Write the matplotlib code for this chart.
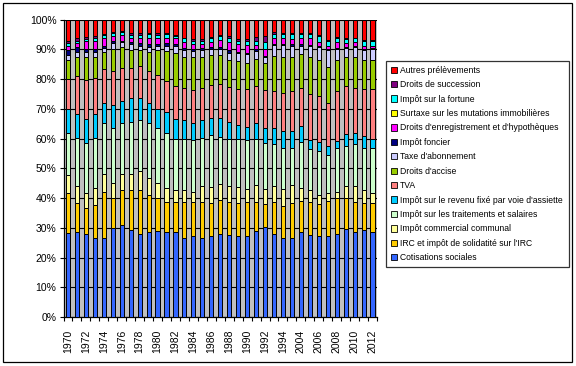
import matplotlib
matplotlib.use("Agg")
import matplotlib.pyplot as plt
from matplotlib.patches import Patch, Rectangle
import numpy as np

plt.rcParams['font.family'] = ['Liberation Sans', 'DejaVu Sans']

# years on the category axis (the series jumps from 1995 to 2004)
years = list(range(1970, 1996)) + list(range(2004, 2013))

# shares in %, one value per year
cotisations = [28.3, 28.7, 28.0, 26.7, 26.7, 29.8, 31.0, 29.4, 27.8, 28.7, 29.0, 28.7, 28.7, 26.7, 27.3, 26.7, 27.3, 28.0,
               27.6, 27.3, 27.3, 29.0, 30.3, 28.0, 26.6, 26.6, 28.7, 27.6, 27.3, 27.3, 28.0, 29.7, 28.7, 29.3, 28.7]
irc = [13.5, 9.7, 8.7, 11.1, 15.4, 10.3, 11.8, 13.4, 15.0, 12.4, 11.1, 10.1, 10.1, 12.1, 11.5, 12.1, 11.1, 11.4,
       11.2, 11.1, 11.5, 9.8, 7.8, 10.8, 10.8, 11.8, 10.4, 11.2, 10.8, 11.8, 12.1, 10.4, 10.1, 9.1, 9.7]
icc = [5.8, 5.5, 5.1, 5.7, 6.1, 5.1, 5.4, 5.4, 6.2, 5.8, 5.1, 4.7, 4.0, 4.0, 3.3, 5.4, 5.4, 5.4,
       5.4, 5.4, 4.3, 5.7, 5.0, 5.4, 5.7, 6.1, 4.4, 4.0, 3.0, 2.7, 2.0, 4.1, 5.4, 4.4, 3.4]
its = [14.4, 16.4, 16.6, 16.8, 17.2, 18.5, 16.9, 17.5, 17.1, 18.2, 18.5, 18.5, 17.0, 17.0, 17.3, 16.1, 17.5, 15.8,
       15.6, 16.0, 16.3, 15.3, 15.3, 14.1, 13.9, 12.5, 15.2, 13.8, 14.9, 12.8, 14.9, 13.4, 14.1, 14.2, 15.2]
ira = [7.8, 8.1, 8.3, 7.9, 6.7, 7.5, 7.4, 7.8, 7.7, 7.0, 6.4, 7.1, 6.9, 6.6, 6.0, 6.1, 5.8, 6.5,
       5.9, 4.9, 4.6, 5.6, 5.3, 5.4, 5.7, 5.7, 5.7, 2.8, 3.0, 3.0, 2.3, 3.9, 3.5, 3.8, 3.0]
tva = [10.2, 12.5, 12.9, 12.1, 11.2, 11.7, 11.4, 10.1, 10.5, 10.8, 11.2, 10.2, 10.9, 10.5, 11.0, 10.7, 10.9, 11.2,
       11.6, 11.9, 12.6, 12.2, 12.6, 12.3, 12.6, 13.3, 12.6, 15.7, 15.4, 14.5, 16.7, 16.1, 15.2, 15.8, 16.6]
accise = [6.6, 6.7, 8.0, 7.3, 5.7, 7.3, 6.8, 6.3, 5.6, 6.3, 8.6, 10.3, 11.1, 10.7, 11.2, 10.5, 10.0, 9.7,
          9.3, 9.4, 9.0, 9.3, 9.0, 11.9, 12.3, 11.6, 11.3, 12.5, 12.2, 11.9, 10.6, 9.7, 10.3, 10.0, 10.0]
abonnement = [1.6, 1.6, 1.6, 1.6, 1.6, 1.8, 1.7, 1.8, 1.3, 1.7, 1.4, 1.7, 2.5, 2.3, 2.0, 2.3, 2.2, 2.2,
              2.3, 2.9, 2.7, 2.7, 2.2, 3.7, 4.0, 3.7, 3.0, 3.4, 4.1, 5.7, 3.6, 3.3, 3.6, 3.3, 3.6]
foncier = [1.5, 1.6, 1.0, 1.0, 0.6, 0.8, 0.5, 0.7, 1.0, 1.0, 0.6, 0.9, 0.5, 0.5, 0.6, 0.7, 0.6, 0.6,
           0.8, 0.3, 0.6, 0.6, 0.4, 0.3, 0.3, 0.4, 0.5, 0.5, 0.3, 0.3, 0.4, 0.2, 0.2, 0.3, 0.4]
enregistrement = [1.3, 1.3, 2.5, 2.5, 2.5, 1.8, 1.8, 1.6, 1.8, 2.1, 1.8, 1.6, 2.0, 2.0, 1.5, 1.3, 1.8, 2.5,
                  2.8, 2.6, 2.7, 1.3, 2.1, 2.0, 2.0, 1.9, 2.0, 2.4, 1.6, 1.3, 1.8, 1.2, 1.3, 0.8, 0.7]
surtaxe = [0.0] * 35
fortune = [1.1, 0.8, 0.9, 1.0, 1.0, 0.8, 1.0, 0.9, 0.9, 1.1, 1.1, 1.4, 0.9, 1.3, 1.2, 0.8, 1.1, 1.2,
           1.5, 1.1, 1.3, 1.4, 2.6, 1.4, 1.3, 1.6, 1.4, 1.4, 1.8, 1.4, 1.3, 1.4, 1.3, 1.9, 1.4]
succession = [0.9, 0.8, 0.6, 0.9, 0.4, 0.3, 0.6, 0.6, 0.5, 0.5, 0.6, 0.3, 0.3, 0.3, 0.5, 0.7, 0.5, 0.3,
              0.4, 0.5, 0.6, 1.4, 1.9, 0.4, 0.3, 0.3, 0.4, 0.3, 0.5, 0.6, 0.6, 0.5, 0.3, 0.4, 0.6]
autres = [7.0, 6.3, 5.8, 5.4, 4.9, 4.3, 3.7, 4.5, 4.6, 4.4, 4.6, 4.5, 5.1, 6.0, 6.6, 6.6, 5.8, 5.2,
          5.6, 6.6, 6.5, 5.7, 5.5, 4.3, 4.5, 4.5, 4.4, 4.4, 5.1, 6.7, 5.7, 6.1, 6.0, 6.7, 6.7]

# stacking order, bottom to top
series = [
    ("Cotisations sociales", cotisations, "#3366FF"),
    ("IRC et impôt de solidatité sur l'IRC", irc, "#FFCC00"),
    ("Impôt commercial communal", icc, "#FFFF99"),
    ("Impôt sur les traitements et salaires", its, "#CCFFCC"),
    ("Impôt sur le revenu fixé par voie d'assiette", ira, "#00CCFF"),
    ("TVA", tva, "#FF8080"),
    ("Droits d'accise", accise, "#99CC00"),
    ("Taxe d'abonnement", abonnement, "#CCCCFF"),
    ("Impôt foncier", foncier, "#000080"),
    ("Droits d'enregistrement et d'hypothèques", enregistrement, "#FF00FF"),
    ("Surtaxe sur les mutations immobilières", surtaxe, "#FFFF00"),
    ("Impôt sur la fortune", fortune, "#00FFFF"),
    ("Droits de succession", succession, "#800080"),
    ("Autres prélèvements", autres, "#FF0000"),
]

data = np.array([s[1] for s in series], dtype=float)
shares = data / data.sum(axis=0) * 100  # 100% stacked

fig = plt.figure(figsize=(5.76, 3.66), dpi=100)
ax = fig.add_axes([63.5 / 576, 1 - 317 / 366, (377 - 63.5) / 576, (317 - 19.7) / 366])
ax.set_facecolor("#C0C0C0")

x = np.arange(len(years))
bottom = np.zeros(len(years))
handles = []
for (name, _, color), vals in zip(series, shares):
    ax.bar(x, vals, bottom=bottom, width=0.46, color=color,
           edgecolor="black", linewidth=0.7, zorder=3)
    bottom += vals
    handles.append(Patch(facecolor=color, edgecolor="black", linewidth=0.6, label=name))

ax.set_xlim(-0.5, len(years) - 0.5)
ax.set_ylim(0, 100)
ax.set_yticks(np.arange(0, 101, 10))
ax.set_yticklabels([f"{v}%" for v in range(0, 101, 10)], fontsize=7.5)
ax.yaxis.grid(True, color="black", linewidth=0.8, zorder=0)
ax.set_axisbelow(True)

# year labels on every other bar, tick marks between categories
ax.set_xticks(x[::2])
ax.set_xticklabels([str(y) for y in years[::2]], rotation=90, fontsize=7.5)
ax.set_xticks(np.arange(-0.5, len(years), 1), minor=True)
ax.tick_params(axis="x", which="major", length=0, pad=9)
ax.tick_params(axis="x", which="minor", length=3, width=0.8)
ax.tick_params(axis="y", length=3, width=0.8, pad=2)

for side in ["top", "right"]:
    ax.spines[side].set_visible(False)
for side in ["left", "bottom"]:
    ax.spines[side].set_linewidth(0.9)

leg = fig.legend(handles[::-1], [h.get_label() for h in handles[::-1]],
                 loc="upper left", bbox_to_anchor=(386 / 576, 1 - 61 / 366, (569 - 386) / 576, 0.0),
                 mode="expand", fontsize=6.2, frameon=True, fancybox=False,
                 handlelength=0.75, handleheight=0.75, handletextpad=0.3,
                 labelspacing=0.63, borderpad=0.55, borderaxespad=0)
leg.get_frame().set_edgecolor("black")
leg.get_frame().set_linewidth(0.9)

# border around the whole chart
fig.patches.append(Rectangle((3 / 576, 4 / 366), 569 / 576, 359 / 366, transform=fig.transFigure,
                             fill=False, edgecolor="black", linewidth=0.9))

fig.savefig("out.png", dpi=100)
